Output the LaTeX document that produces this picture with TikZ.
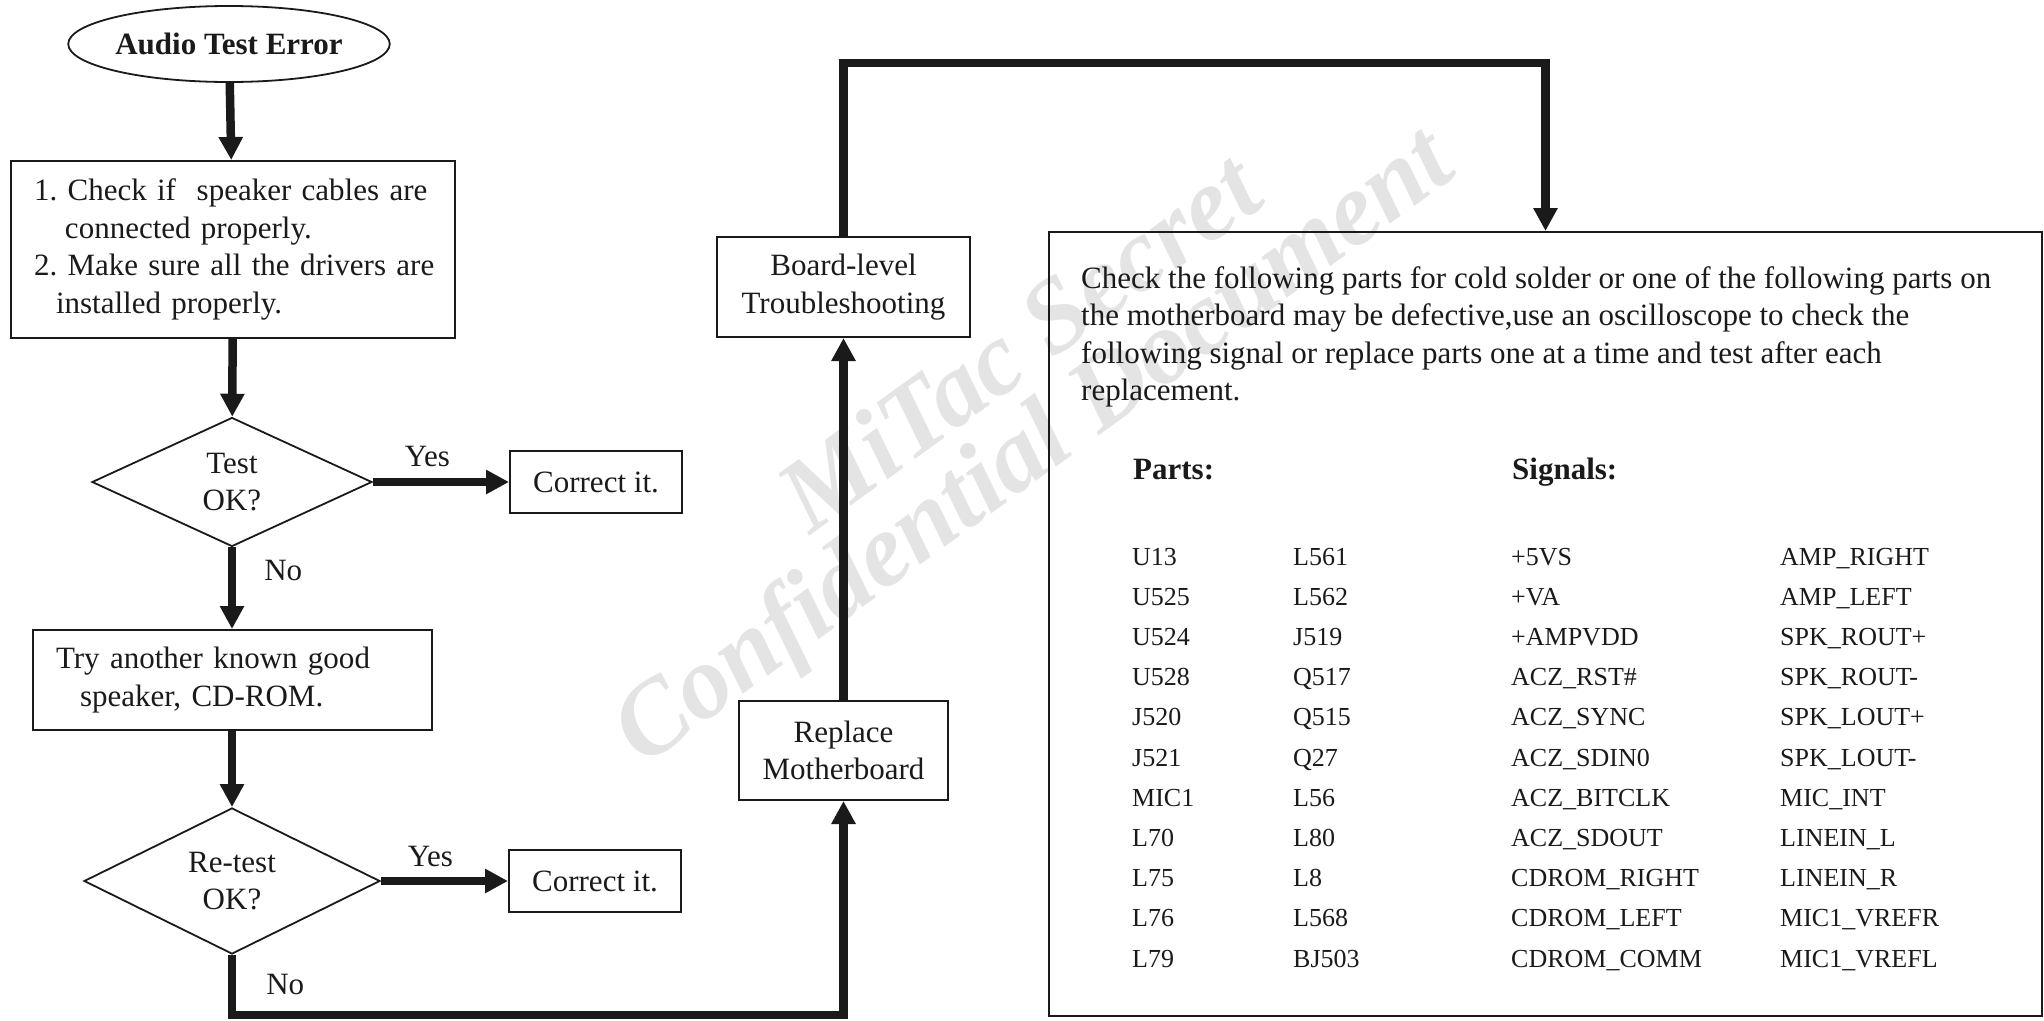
\documentclass[tikz,border=0pt]{standalone}
\usepackage{fontspec}
\setmainfont{Liberation Serif}
\usepackage{xcolor}
\usepackage{tikz}
\usetikzlibrary{shapes.geometric, arrows.meta, positioning}
\definecolor{inkline}{RGB}{26, 26, 26}
\definecolor{watermark}{RGB}{228, 228, 228}

\begin{document}
\begin{tikzpicture}[
	x=1pt, y=-1pt,
	every node/.style={font=\fontsize{31}{37.5}\selectfont, text=inkline},
	box/.style={draw=inkline, line width=2pt, rectangle, inner sep=0pt, align=center},
	decision/.style={draw=inkline, line width=1.8pt, diamond, inner sep=0pt, align=center},
	flow/.style={draw=inkline, line width=8.5pt, -{Triangle[width=23pt, length=23pt]}},
	tag/.style={inner sep=0pt},
	stamp/.style={rotate=36, text=watermark, inner sep=0pt, font=\fontsize{104}{110}\selectfont\bfseries\itshape},
	cell/.style={font=\fontsize{26}{30}\selectfont, anchor=base west, inner sep=0pt}
	]
	\useasboundingbox (0,0) rectangle (2044,1020);

	\node[stamp] (wm1) at (1018,341) {MiTac Secret};
	\node[stamp] (wm2) at (1036,450) {Confidential Document};

	\node[
	draw=inkline,
	line width=1.8pt,
	ellipse,
	minimum width=316pt,
	minimum height=76pt,
	inner sep=0pt,
	font=\fontsize{31}{37.5}\selectfont\bfseries
	] (start) at (229,44) {Audio Test Error};

	\node[box, align=left, anchor=north west, minimum height=177pt,
		text width=398pt, inner xsep=23pt] (check) at (10,160)
		{\mbox{1.~Check if~~speaker cables are}\\\mbox{\hspace*{31pt}connected properly.}\\
		\mbox{2.~Make sure all the drivers are}\\\mbox{\hspace*{22pt}installed properly.}};
	\node[decision, minimum width=280pt, minimum height=129pt] (test) at (232,482) {Test\\OK?};
	\node[box, minimum width=172pt, minimum height=62pt] (fix1) at (596,482) {Correct it.};
	\node[box, align=left, anchor=north west, minimum height=100pt,
		text width=353pt, inner xsep=23pt] (swap) at (32,629)
		{Try another known good\\\hspace*{24pt}speaker, CD-ROM.};
	\node[decision, minimum width=296pt, minimum height=114pt] (retest) at (232,881) {Re-test\\OK?};
	\node[box, minimum width=172pt, minimum height=62pt] (fix2) at (595,881) {Correct it.};
	\node[box, minimum width=209pt, minimum height=99pt] (replace) at (843.5,750.5) {Replace\\Motherboard};
	\node[box, minimum width=253pt, minimum height=100pt] (board) at (843.5,287) {Board-level\\Troubleshooting};
	\node[box, minimum width=993pt, minimum height=784pt] (info) at (1545.5,624) {};

	\coordinate (topbend) at (1200,63);
	\coordinate (botbend) at (500,1015);

	\draw[flow] (start) -- (check);
	\draw[flow] (check) -- (test);
	\draw[flow] (test.east) -- node[tag, above=11pt, pos=0.4] (yes1) {Yes} (fix1.west);
	\draw[flow] (test.south) -- node[tag, right=28pt, pos=0.28] (no1) {No} (swap.north -| test.south);
	\draw[flow] (swap.south -| retest.north) -- (retest.north);
	\draw[flow] (retest.east) -- node[tag, above=10pt, pos=0.39] (yes2) {Yes} (fix2.west);
	\draw[flow] (retest.south) |- node[tag, right=30pt, pos=0.245] (no2) {No} (botbend) -| (replace.south);
	\draw[flow] (replace) -- (board);
	\draw[flow] (board.north) |- (topbend) -| (info.north);

	\node[anchor=north west, inner sep=0pt, align=left] (note) at (1081,266)
		{Check the following parts for cold solder or one of the following parts on\\
		the motherboard may be defective,use an oscilloscope to check the\\
		following signal or replace parts one at a time and test after each\\
		replacement.};
	\node[anchor=base west, inner sep=0pt, font=\fontsize{31}{37.5}\selectfont\bfseries] (parts) at (1133,479) {Parts:};
	\node[anchor=base west, inner sep=0pt, font=\fontsize{31}{37.5}\selectfont\bfseries] (signals) at (1512,479) {Signals:};

	\foreach \pa/\pb/\sa/\sb [count=\i from 0] in {
		U13/L561/+5VS/AMP\_RIGHT,
		U525/L562/+VA/AMP\_LEFT,
		U524/J519/+AMPVDD/SPK\_ROUT+,
		U528/Q517/ACZ\_RST\#/SPK\_ROUT-,
		J520/Q515/ACZ\_SYNC/SPK\_LOUT+,
		J521/Q27/ACZ\_SDIN0/SPK\_LOUT-,
		MIC1/L56/ACZ\_BITCLK/MIC\_INT,
		L70/L80/ACZ\_SDOUT/LINEIN\_L,
		L75/L8/CDROM\_RIGHT/LINEIN\_R,
		L76/L568/CDROM\_LEFT/MIC1\_VREFR,
		L79/BJ503/CDROM\_COMM/MIC1\_VREFL}
	{
		\node[cell] (parta\i) at (1132,565+40.2*\i) {\pa};
		\node[cell] (partb\i) at (1293,565+40.2*\i) {\pb};
		\node[cell] (siga\i) at (1511,565+40.2*\i) {\sa};
		\node[cell] (sigb\i) at (1780,565+40.2*\i) {\sb};
	}
\end{tikzpicture}
\end{document}
